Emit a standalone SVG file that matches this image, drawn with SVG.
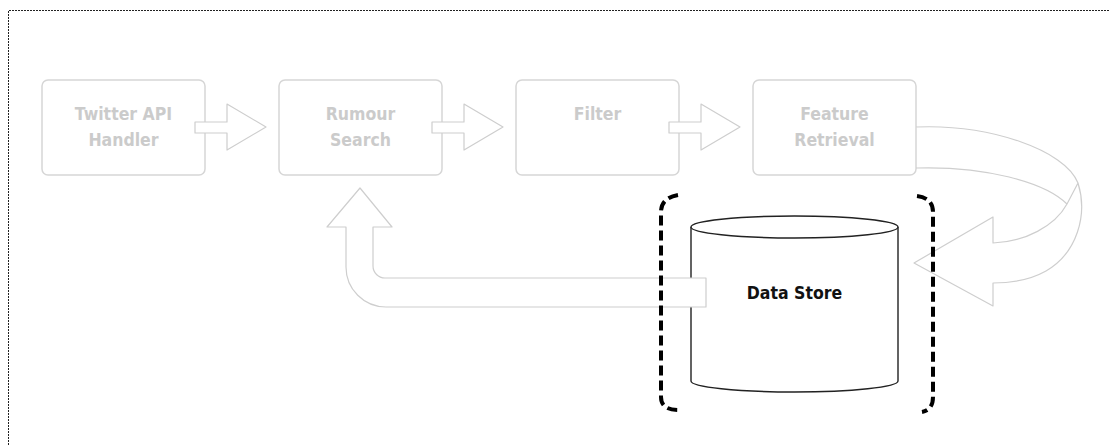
<svg xmlns="http://www.w3.org/2000/svg" width="1109" height="445" viewBox="0 0 1109 445">
  <defs>
    <style>
      .frame { fill: none; stroke: #222; stroke-width: 1; stroke-dasharray: 2 1; }
      .stage rect { fill: #fff; stroke: #d6d6d6; stroke-width: 1.5; }
      .stage text, .store text { font-family: "DejaVu Sans Condensed", "DejaVu Sans", "Liberation Sans", sans-serif; font-stretch: condensed; font-weight: bold; font-size: 17.5px; text-anchor: middle; }
      .stage text { fill: #cbcbcb; }
      .store text { fill: #111; }
      .flow { fill: #fff; stroke: #cecece; stroke-width: 1.2; stroke-linejoin: round; }
      .flow-line { fill: none; stroke: #cecece; stroke-width: 1.2; }
      .drum { fill: #fff; stroke: #222; stroke-width: 1.4; }
      .brace { fill: none; stroke: #000; stroke-width: 4; stroke-dasharray: 10 5; }
    </style>
  </defs>

  <rect width="1109" height="445" fill="#fff"/>
  <!-- page frame: dotted top and left edges -->
  <path class="frame" d="M8.5,445 V10.5 H1109"/>

  <!-- pipeline stages -->
  <g id="twitter-api-handler" class="stage">
    <rect x="42" y="80" width="163" height="95" rx="6"/>
    <text x="123.5" y="120">Twitter API</text>
    <text x="123.5" y="146">Handler</text>
  </g>
  <g id="rumour-search" class="stage">
    <rect x="279" y="80" width="163" height="95" rx="6"/>
    <text x="360.5" y="120">Rumour</text>
    <text x="360.5" y="146">Search</text>
  </g>
  <g id="filter" class="stage">
    <rect x="516" y="80" width="163" height="95" rx="6"/>
    <text x="597.5" y="120">Filter</text>
  </g>
  <g id="feature-retrieval" class="stage">
    <rect x="753" y="80" width="163" height="95" rx="6"/>
    <text x="834.5" y="120">Feature</text>
    <text x="834.5" y="146">Retrieval</text>
  </g>

  <!-- data store cylinder -->
  <g id="data-store" class="store">
    <path class="drum" d="M691,227 V381 A103.5,11 0 0 0 898,381 V227"/>
    <ellipse class="drum" cx="794.5" cy="227" rx="103.5" ry="11"/>
    <text x="794.5" y="299">Data Store</text>
  </g>

  <!-- block-arrow connectors -->
  <g id="connectors">
    <polygon class="flow" points="195,122 227,122 227,104 266,127 227,150 227,133 195,133"/>
    <polygon class="flow" points="432,122 464,122 464,104 503,127 464,150 464,133 432,133"/>
    <polygon class="flow" points="669,122 701,122 701,104 740,127 701,150 701,133 669,133"/>
    <!-- loop from Feature Retrieval back into the store -->
    <path class="flow" d="M916,127 C990,124 1065,150 1078,183 C1088,215 1077,253 1046,271 C1030,280 1010,283 993,283 L993,306 L914,263 L993,217 L993,243 C1025,242 1055,226 1067,204 L1078,183"/>
    <path class="flow-line" d="M916,168 C985,166 1045,182 1067,204"/>
    <!-- return from the store up to Rumour Search -->
    <path class="flow" d="M360,188 L392,227 L373,227 L373,266 A12,12 0 0 0 385,278 L706,278 L706,307 L386,307 A40,40 0 0 1 346,267 L346,227 L327,227 Z"/>
  </g>

  <!-- dashed brackets around the store -->
  <g id="store-brackets">
    <path class="brace" d="M678,195 Q661,198 661,212 V397 Q661,410 678,410"/>
    <path class="brace" d="M917,196 Q933,198 933,212 V397 Q933,410 922,412"/>
  </g>
</svg>
